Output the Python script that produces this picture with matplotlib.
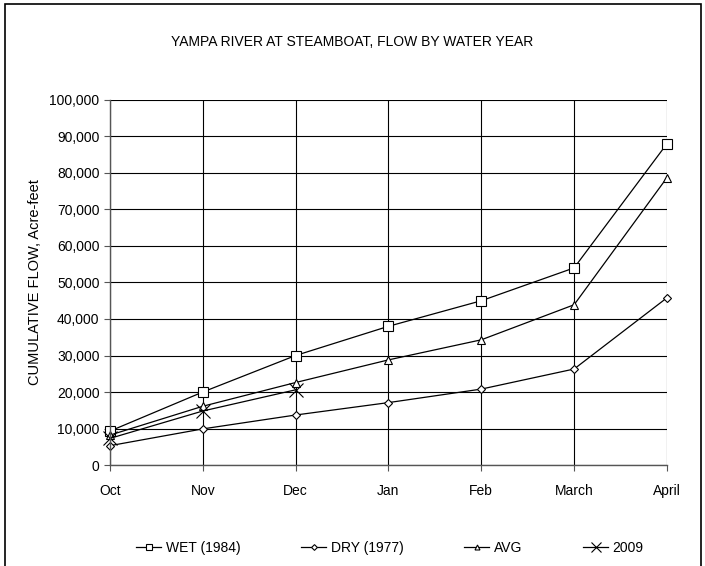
import matplotlib
matplotlib.use("Agg")
import matplotlib.pyplot as plt
from matplotlib.patches import Rectangle
from matplotlib.ticker import FuncFormatter, MultipleLocator

plt.rcParams["font.family"] = ["Liberation Sans", "DejaVu Sans"]

# ---- data --------------------------------------------------------------
months = ["Oct", "Nov", "Dec", "Jan", "Feb", "March", "April"]
wet_1984 = [9300, 20000, 30000, 38000, 45000, 54000, 88000]
dry_1977 = [5300, 9900, 13700, 17100, 20800, 26300, 45800]
avg_flow = [8200, 16100, 22600, 28800, 34300, 43900, 78700]
wy_2009 = [7300, 14800, 20600]

fig = plt.figure(figsize=(7.05, 5.66), dpi=100)
ax = fig.add_axes([0.156, 0.1784, 0.79, 0.645])

x = list(range(len(months)))
kw = dict(color="black", lw=0.9, mfc="white", mec="black", mew=0.8,
          clip_on=False)
ax.plot(x, wet_1984, marker="s", ms=7, label="WET (1984)", **kw)
ax.plot(x, dry_1977, marker="D", ms=4.5, label="DRY (1977)", **kw)
ax.plot(x, avg_flow, marker="^", ms=5.5, label="AVG", **kw)
ax.plot(x[:len(wy_2009)], wy_2009, marker="x", ms=10, label="2009", **kw)

ax.set_xlim(0, len(months) - 1)
ax.set_ylim(0, 100000)
ax.set_xticks(x)
ax.set_xticklabels(months)
ax.yaxis.set_major_locator(MultipleLocator(10000))
ax.yaxis.set_major_formatter(FuncFormatter(lambda v, _: f"{v:,.0f}"))
ax.grid(True, color="black", lw=0.8)
ax.set_axisbelow(True)
for s in ("top", "right"):
    ax.spines[s].set_visible(False)
for s in ("left", "bottom"):
    ax.spines[s].set_color("#555555")
    ax.spines[s].set_linewidth(1.0)
ax.tick_params(axis="both", labelsize=10, length=4, width=0.8, color="#555555")
ax.tick_params(axis="x", pad=10)
ax.set_ylabel("CUMULATIVE FLOW, Acre-feet", fontsize=10.5, labelpad=5)

fig.text(0.5, 1 - 42 / 566, "YAMPA RIVER AT STEAMBOAT, FLOW BY WATER YEAR",
         ha="center", va="center", fontsize=10)

fig.legend(loc="center", bbox_to_anchor=(0.553, 1 - 548 / 566), ncol=4,
           frameon=False, fontsize=10, handlelength=1.8, handletextpad=0.3,
           columnspacing=4.4, markerscale=0.65)

# outer chart border (open at the bottom, as in the reference)
fig.patches.append(Rectangle((5 / 705, -0.02), 696 / 705, 1.02 - 4 / 566,
                             transform=fig.transFigure, fill=False,
                             ec="black", lw=1.2))

fig.savefig("out.png", dpi=100)
